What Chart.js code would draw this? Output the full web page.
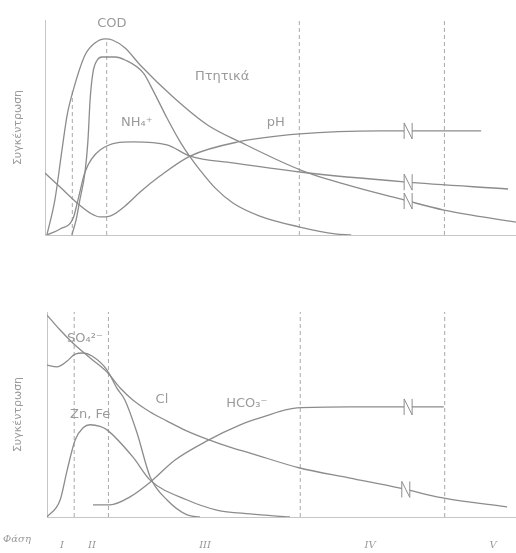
<!DOCTYPE html>
<html><head><meta charset="utf-8">
<script src="https://cdn.jsdelivr.net/npm/chart.js@4/dist/chart.umd.min.js"></script>
<style>
html,body{margin:0;padding:0;background:#fff;width:516px;height:553px;overflow:hidden}
canvas{position:absolute;left:0}
#c1{top:0}#c2{top:280px}
</style></head><body>
<canvas id="c1" width="516" height="250"></canvas>
<canvas id="c2" width="516" height="273"></canvas>
<script>
// phase boundaries and phase labels (time axis, 0-100)
const phaseBounds = [5.8, 13.1, 54.0, 84.8];
const phaseTicks = [3.2, 9.6, 33.7, 68.9, 95.1];
const phaseLabels = ['I', 'II', 'III', 'IV', 'V'];
const boundTopsUpper = [67, 91, 100, 100];
const boundTopsLower = [100, 100, 100, 100];

// upper panel (relative concentration 0-100)
const codX = [0.4, 2.1, 3.6, 4.7, 6.0, 8.5, 10.6, 12.8, 14.3, 17.0, 20.2, 27.2, 34.5, 41.4, 54.3, 64.9, 76.2, 84.7, 100];
const codY = [0, 16.3, 39.5, 55.8, 67.4, 83.7, 89.3, 91.2, 90.7, 87.0, 79.1, 64.2, 51.2, 43.3, 30.2, 22.8, 16.3, 11.6, 6.0];
const vfaX = [5.7, 6.6, 7.4, 8.5, 9.1, 9.6, 10.2, 11.1, 12.1, 14.9, 17.0, 20.9, 22.9, 25.9, 28.7, 30.8, 32.9, 36.1, 39.9, 45.6, 54.1, 61.6, 65];
const vfaY = [0, 7.0, 16.3, 29.3, 43.3, 63.7, 75.8, 81.4, 82.8, 82.8, 81.4, 75.3, 67.4, 54.4, 43.3, 36.3, 30.2, 21.9, 14.9, 8.8, 3.7, 0.5, 0];
const nh4X = [0.4, 3.2, 6.0, 7.0, 8.5, 11.7, 18.7, 25.9, 30.8, 39.9, 54.1, 76.2, 98.3];
const nh4Y = [0, 2.8, 7.9, 16.3, 29.3, 39.5, 43.3, 41.9, 36.7, 33.5, 29.3, 24.7, 21.4];
const phX = [0, 3.2, 6.8, 9.6, 11.7, 13.8, 17.0, 20.2, 24.4, 30.8, 41.0, 54.1, 71.3, 92.6];
const phY = [28.8, 22.3, 14.9, 10.2, 8.4, 8.8, 13.5, 20.0, 27.4, 36.7, 43.3, 47.0, 48.4, 48.4];

// lower panel
const clX = [0, 2.8, 5.5, 9.2, 12.8, 15.6, 18.3, 22.0, 25.6, 29.4, 34.1, 39.0, 43.3, 53.9, 64.6, 75.3, 84.4, 98.1];
const clY = [98.5, 91.2, 84.9, 77.6, 70.7, 62.9, 57.1, 51.2, 46.8, 42.4, 38.0, 34.1, 31.2, 23.9, 19.0, 14.1, 9.3, 4.9];
const so4X = [0, 2.1, 4.3, 6.0, 7.7, 9.6, 12.8, 14.9, 16.6, 19.2, 22.0, 25.6, 29.9, 32.6];
const so4Y = [74.1, 73.2, 76.1, 79.5, 80.0, 78.5, 71.7, 62.9, 57.1, 41.0, 19.5, 8.3, 1.0, 0];
const znfeX = [0, 2.8, 4.3, 6.0, 7.7, 9.2, 11.3, 12.8, 18.3, 22.0, 29.9, 36.2, 43.3, 51.8];
const znfeY = [0, 8.3, 22.9, 37.6, 43.5, 45.0, 44.2, 42.5, 29.3, 18.0, 8.3, 3.4, 1.5, 0];
const hco3X = [9.8, 13.4, 17.7, 22.0, 27.3, 34.1, 41.2, 45.4, 53.3, 64.6, 84.6];
const hco3Y = [5.9, 5.9, 9.8, 17.0, 27.8, 37.1, 44.9, 48.3, 53.2, 53.7, 53.7];

const LINE = '#8c8c8c';
const TEXT = '#9a9a9a';

function series(label, xs, ys) {
  return {label, data: xs.map((x, i) => ({x, y: ys[i]})), borderColor: LINE, borderWidth: 1.3,
    pointRadius: 0, showLine: true, fill: false, cubicInterpolationMode: 'monotone'};
}
function vline(x, top) {
  return {label: '', data: [{x, y: 0}, {x, y: top}], borderColor: '#a9a9a9', borderWidth: 1,
    borderDash: [4, 3], pointRadius: 0, showLine: true, fill: false};
}
function interp(data, xv) {
  for (let i = 1; i < data.length; i++) {
    if (data[i].x >= xv) {
      const a = data[i - 1], b = data[i];
      return a.y + (b.y - a.y) * (xv - a.x) / (b.x - a.x);
    }
  }
  return data[data.length - 1].y;
}

const decor = {
  id: 'decor',
  afterDatasetsDraw(chart, args, opts) {
    const {ctx} = chart;
    const x = chart.scales.x, y = chart.scales.y;
    ctx.save();
    (opts.breaks || []).forEach(b => {
      const ds = chart.data.datasets.find(d => d.label === b.series);
      const px = x.getPixelForValue(b.x), py = y.getPixelForValue(interp(ds.data, b.x));
      ctx.fillStyle = '#fff';
      ctx.fillRect(px - 4, py - 5, 8, 10);
      ctx.strokeStyle = LINE; ctx.lineWidth = 1;
      ctx.beginPath();
      ctx.moveTo(px - 4, py + 8); ctx.lineTo(px - 4, py - 8);
      ctx.lineTo(px + 4, py + 8); ctx.lineTo(px + 4, py - 8);
      ctx.stroke();
    });
    ctx.fillStyle = TEXT; ctx.textAlign = 'center'; ctx.textBaseline = 'middle';
    ctx.font = '13px "DejaVu Sans"';
    (opts.labels || []).forEach(l => {
      ctx.fillText(l.text, x.getPixelForValue(l.x), y.getPixelForValue(l.y));
    });
    if (opts.prefix) {
      ctx.font = 'italic 10px "DejaVu Serif"';
      ctx.fillText(opts.prefix, 17, chart.chartArea.bottom + 22);
    }
    ctx.restore();
  }
};

function baseOptions(leftW, topPad, bottomH, showTicks) {
  return {
    responsive: false, animation: false, devicePixelRatio: 1,
    layout: {padding: {top: topPad, left: 0, right: 0, bottom: 0}},
    plugins: {legend: {display: false}, tooltip: {enabled: false}},
    scales: {
      x: {type: 'linear', min: 0, max: 100, grid: {display: false},
        border: {display: true, color: '#c6c6c6', width: 1},
        ticks: showTicks ? {display: true, autoSkip: false, maxRotation: 0, padding: 14,
          color: TEXT, font: {family: 'DejaVu Serif', style: 'italic', size: 10},
          callback: (v, i) => phaseLabels[i]} : {display: false},
        afterBuildTicks: showTicks ? (axis => { axis.ticks = phaseTicks.map(v => ({value: v})); }) : undefined,
        afterFit(s) { s.height = bottomH; }},
      y: {type: 'linear', min: 0, max: 100, grid: {display: false},
        border: {display: true, color: '#c6c6c6', width: 1},
        ticks: {display: false},
        title: {display: true, text: 'Συγκέντρωση', color: TEXT,
          font: {family: 'DejaVu Sans', size: 11}, padding: {top: 12, bottom: 0}},
        afterFit(s) { s.width = leftW; }}
    }
  };
}

const opt1 = baseOptions(45, 20, 15, false);
opt1.plugins.decor = {
  breaks: [{series: 'pH', x: 77.1}, {series: 'NH4', x: 77.1}, {series: 'COD', x: 77.1}],
  labels: [{text: 'COD', x: 14.2, y: 98.1}, {text: 'Πτητικά', x: 37.6, y: 73.5},
           {text: 'NH₄⁺', x: 19.5, y: 52.1}, {text: 'pH', x: 49.0, y: 52.1}]
};
new Chart(document.getElementById('c1'), {
  type: 'scatter',
  data: {datasets: [
    series('COD', codX, codY), series('Πτητικά', vfaX, vfaY),
    series('NH4', nh4X, nh4Y), series('pH', phX, phY),
    ...phaseBounds.map((b, i) => vline(b, boundTopsUpper[i]))
  ]},
  options: opt1,
  plugins: [decor]
});

const opt2 = baseOptions(47, 32, 36, true);
opt2.plugins.decor = {
  breaks: [{series: 'HCO3', x: 77.0}, {series: 'Cl', x: 76.5}],
  labels: [{text: 'SO₄²⁻', x: 8.1, y: 86.8}, {text: 'Zn, Fe', x: 9.2, y: 49.8},
           {text: 'Cl', x: 24.5, y: 57.1}, {text: 'HCO₃⁻', x: 42.6, y: 55.1}],
  prefix: 'Φάση'
};
new Chart(document.getElementById('c2'), {
  type: 'scatter',
  data: {datasets: [
    series('Cl', clX, clY), series('SO4', so4X, so4Y),
    series('ZnFe', znfeX, znfeY), series('HCO3', hco3X, hco3Y),
    ...phaseBounds.map((b, i) => vline(b, boundTopsLower[i]))
  ]},
  options: opt2,
  plugins: [decor]
});
</script>
</body></html>
